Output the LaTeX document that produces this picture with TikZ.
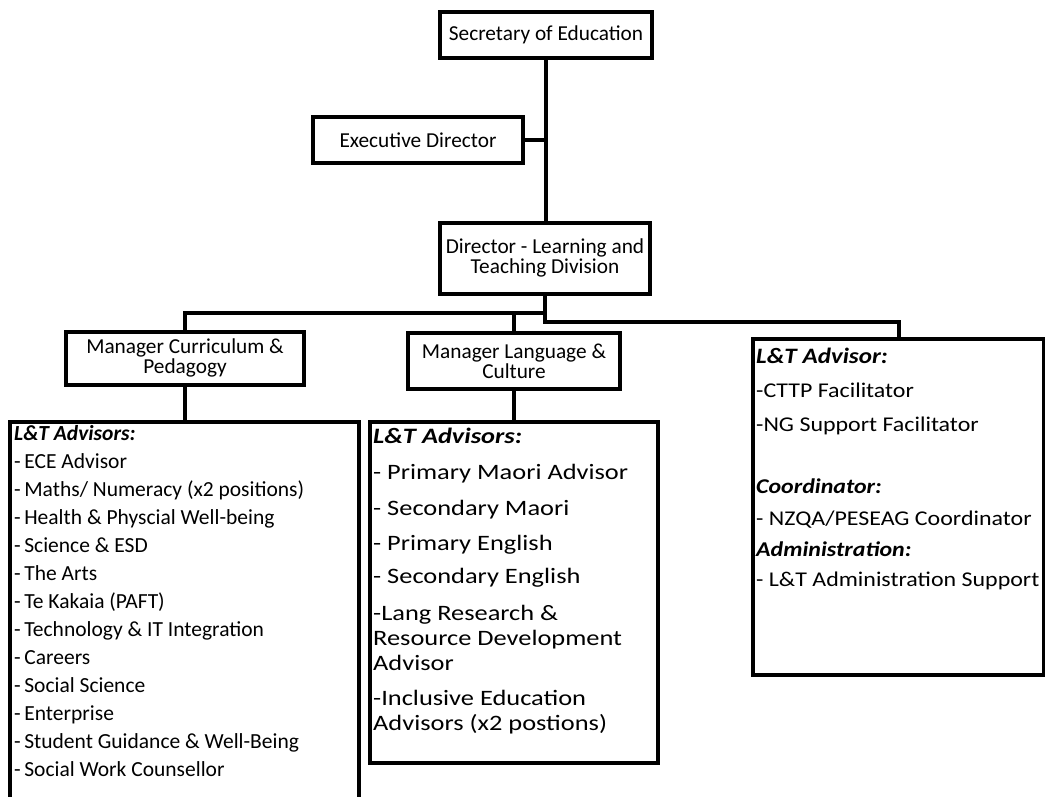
\documentclass[tikz,border=0pt]{standalone}
\usepackage{fontspec}
\setmainfont{Carlito}
\newfontfamily\widefont[FakeStretch=1.2]{Carlito}
\newfontfamily\semiwide[FakeStretch=1.14]{Carlito}
\begin{document}
\begin{tikzpicture}[x=1pt, y=-1pt,
		box/.style={rectangle, draw, line width=4pt, outer sep=0pt, inner sep=0pt, align=center,
			font=\fontsize{21.3}{20}\selectfont},
		listbox/.style={rectangle, draw, line width=4pt, outer sep=0pt, inner sep=0pt, anchor=north west},
		listtext/.style={anchor=north west, inner sep=0pt, align=left, font=\fontsize{21.5}{28}\selectfont},
		conn/.style={line width=4pt}]
		    \useasboundingbox (0,0) rectangle (1045,796);
		    % top of the chart
		    \node[box, minimum width=212, minimum height=46] (sec) at (546,35) {Secretary of Education};
		    \node[box, minimum width=210, minimum height=46] (exec) at (418,140) {Executive Director};
		    \node[box, minimum width=210, minimum height=71] (dir) at (545,258) {Director - Learning and\\Teaching Division};
		    \node[box, minimum width=238, minimum height=53] (mcp) at (185,358) {Manager Curriculum \&\\Pedagogy};
		    \node[box, minimum width=212, minimum height=56] (mlc) at (514,361) {Manager Language \&\\Culture};

		    % advisor boxes
		    \node[listbox, minimum width=349, minimum height=400] (lt) at (10,422) {};
		    \node[listbox, minimum width=288, minimum height=341] (lc) at (370,422) {};
		    \node[listbox, minimum width=291, minimum height=336] (lr) at (753,339) {};

		    \node[listtext] (ltt) at (14,425) {\textbf{\textit{L\&T Advisors:}}\\
		        -\,ECE Advisor\\-\,Maths/ Numeracy (x2 positions)\\-\,Health \& Physcial Well-being\\
		        -\,Science \& ESD\\-\,The Arts\\-\,Te Kakaia (PAFT)\\-\,Technology \& IT Integration\\
		        -\,Careers\\-\,Social Science\\-\,Enterprise\\-\,Student Guidance \& Well-Being\\
		        -\,Social Work Counsellor};
		    \node[listtext, font=\widefont\fontsize{22}{25}\selectfont] (lct) at (373,428) {\textbf{\textit{L\&T Advisors:}}\\[11pt]
		        - Primary Maori Advisor\\[11pt]- Secondary Maori\\[10pt]- Primary English\\[8pt]
		        - Secondary English\\[12pt]-Lang Research \&\\Resource Development\\Advisor\\[10pt]
		        -Inclusive Education\\Advisors (x2 postions)};
		    \node[listtext, font=\semiwide\fontsize{21}{31}\selectfont] (lrt) at (756,348) {\textbf{\textit{\fontsize{22}{31}\selectfont L\&T Advisor:}}\\[3pt]
		        -CTTP Facilitator\\[3pt]-NG Support Facilitator\\[31pt]
		        \textbf{\textit{Coordinator:}}\\[1pt]- NZQA/PESEAG Coordinator\\
		        \textbf{\textit{Administration:}}\\[-1pt]- L\&T Administration Support};

		    % connectors
		    \coordinate (jl) at (545,313);
		    \coordinate (jr) at (545,322);
		    \draw[conn] (sec.south) -- (sec.south |- dir.north);
		    \draw[conn] (exec.east) -- (exec.east -| sec.south);
		    \draw[conn] (dir.south) -- (dir.south |- jl) -| (mcp.north);
		    \draw[conn] (jl -| mlc.north) -- (mlc.north);
		    \draw[conn] (dir.south) -- (dir.south |- jr) -| (lr.north);
		    \draw[conn] (mcp.south) -- (mcp.south |- lt.north);
		    \draw[conn] (mlc.south) -- (lc.north);
		\end{tikzpicture}
\end{document}
